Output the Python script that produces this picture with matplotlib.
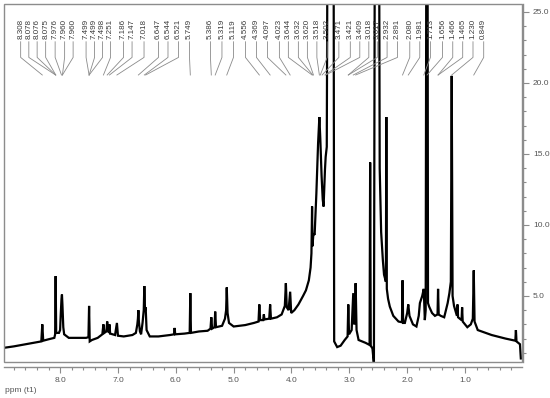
import matplotlib
matplotlib.use('Agg')
import matplotlib.pyplot as plt
from matplotlib.patches import Rectangle
from matplotlib.ticker import MultipleLocator, FormatStrFormatter

plt.rcParams['font.family'] = ['Liberation Sans', 'DejaVu Sans']

# ---- spectrum trace (ppm, intensity) ----
spec_ppm = [8.97, 8.80, 8.60, 8.40, 8.325, 8.308, 8.292, 8.20, 8.10, 8.086, 8.077, 8.068,
            8.02, 8.00, 7.99, 7.976, 7.968, 7.960, 7.945, 7.93, 7.85, 7.70, 7.55, 7.510, 7.499, 7.488,
            7.45, 7.35, 7.27, 7.251, 7.235, 7.20, 7.186, 7.170, 7.155, 7.147, 7.135, 7.05,
            7.018, 7.00, 6.90, 6.75, 6.69, 6.665, 6.655, 6.647, 6.638, 6.62, 6.60, 6.575, 6.554, 6.544,
            6.532, 6.521, 6.505, 6.45, 6.30, 6.10, 6.030, 6.020, 6.010, 5.85, 5.760, 5.749,
            5.738, 5.60, 5.45, 5.400, 5.386, 5.372, 5.330, 5.319, 5.305, 5.20, 5.15, 5.130,
            5.119, 5.105, 5.08, 5.00, 4.80, 4.65, 4.570, 4.556, 4.542, 4.49, 4.478, 4.466,
            4.385, 4.369, 4.355, 4.25, 4.17, 4.115, 4.097, 4.082, 4.050, 4.023, 4.005, 3.95,
            3.88, 3.80, 3.75, 3.70, 3.67, 3.655, 3.644, 3.638, 3.620, 3.600, 3.570, 3.540,
            3.518, 3.502, 3.480, 3.460, 3.445, 3.421, 3.409, 3.390, 3.370, 3.290, 3.275,
            3.262, 3.21, 3.15, 3.08, 3.030, 3.018, 3.005, 2.96, 2.945, 2.932, 2.915, 2.900,
            2.891, 2.875, 2.84, 2.72, 2.650, 2.640, 2.630, 2.60, 2.575, 2.555, 2.490, 2.475,
            2.45, 2.42, 2.40, 2.368, 2.360, 2.352, 2.33, 2.30, 2.24, 2.15, 2.090, 2.080,
            2.070, 2.04, 2.00, 1.981, 1.960, 1.90, 1.84, 1.80, 1.78, 1.74, 1.713, 1.695,
            1.68, 1.665, 1.650, 1.640, 1.62, 1.57, 1.52, 1.475, 1.466, 1.455, 1.42, 1.36,
            1.30, 1.27, 1.245, 1.230, 1.215, 1.19, 1.14, 1.13, 1.12, 1.06, 1.05, 1.04,
            0.96, 0.90, 0.865, 0.849, 0.835, 0.78, 0.54, 0.30, 0.13, 0.12, 0.11, 0.05, 0.035]
spec_int = [1.35, 1.45, 1.60, 1.75, 1.80, 3.00, 1.85, 1.95, 2.05, 2.30, 6.40, 2.40,
            2.40, 2.60, 3.60, 4.80, 5.10, 4.40, 2.80, 2.30, 2.05, 2.05, 2.05, 2.10, 4.30, 1.80,
            1.90, 2.05, 2.30, 3.00, 2.40, 2.50, 3.20, 2.50, 2.45, 3.00, 2.35, 2.25,
            3.10, 2.20, 2.15, 2.25, 2.40, 3.00, 3.40, 4.00, 3.20, 2.50, 2.30, 3.10, 4.00, 5.70,
            4.00, 4.20, 2.60, 2.15, 2.15, 2.25, 2.30, 2.75, 2.30, 2.35, 2.40, 5.20,
            2.40, 2.50, 2.55, 2.70, 3.50, 2.70, 2.80, 3.90, 2.80, 2.90, 3.40, 4.00,
            5.60, 3.80, 3.10, 2.85, 2.95, 3.10, 3.20, 4.40, 3.30, 3.30, 3.70, 3.35,
            3.40, 4.40, 3.40, 3.50, 3.70, 4.30, 5.90, 4.20, 4.00, 5.30, 3.80, 4.00,
            4.40, 5.00, 5.40, 6.10, 7.00, 8.00, 11.30, 8.50, 9.40, 9.30, 12.20, 15.75,
            17.60, 16.10, 13.50, 11.80, 11.30, 13.90, 14.80, 15.50, 40.0, 40.0, 40.0,
            1.80, 1.40, 1.50, 1.90, 2.15, 4.40, 2.30, 2.60, 4.00, 5.20, 3.00, 3.60,
            5.90, 2.60, 1.90, 1.70, 1.55, 14.40, 1.50, 1.30, 0.20, 40.0, 40.0, 14.0,
            9.50, 7.50, 6.50, 6.00, 17.60, 5.50, 4.80, 4.25, 3.60, 3.20, 3.15, 6.10,
            3.10, 3.10, 3.80, 4.40, 3.60, 3.00, 2.85, 3.60, 4.50, 5.00, 5.50, 3.30,
            4.00, 40.0, 40.0, 4.50, 4.25, 3.80, 3.60, 3.70, 5.50, 3.70, 3.60, 3.50,
            4.50, 5.20, 6.00, 20.50, 5.00, 4.30, 3.60, 4.40, 3.50, 3.30, 4.20, 3.20,
            2.80, 3.00, 3.40, 6.80, 3.20, 2.60, 2.25, 2.00, 1.85, 2.60, 1.80, 1.60, 0.60]

# ---- peak picking labels ----
peak_labels = ['8.308', '8.078', '8.076', '8.075', '7.976', '7.960', '7.960', '7.499', '7.499',
               '7.498', '7.251', '7.186', '7.147', '7.018', '6.647', '6.544', '6.521', '5.749',
               '5.386', '5.319', '5.119', '4.556', '4.369', '4.097', '4.023', '3.644', '3.632',
               '3.620', '3.518', '3.502', '3.471', '3.421', '3.409', '3.018', '3.017', '2.932',
               '2.891', '2.080', '1.981', '1.713', '1.656', '1.466', '1.465', '1.230', '0.849']
peak_ppm = [float(s) for s in peak_labels]
label_pos_ppm = [8.682, 8.541, 8.397, 8.250, 8.086, 7.922, 7.775, 7.551, 7.404,
                 7.266, 7.128, 6.903, 6.756, 6.549, 6.299, 6.135, 5.953, 5.763,
                 5.401, 5.202, 5.003, 4.796, 4.606, 4.416, 4.209, 4.054, 3.881,
                 3.725, 3.561, 3.383, 3.181, 2.983, 2.819, 2.663, 2.516, 2.347,
                 2.167, 1.955, 1.782, 1.598, 1.390, 1.212, 1.040, 0.862, 0.677]

x_major = [8.0, 7.0, 6.0, 5.0, 4.0, 3.0, 2.0, 1.0]
y_major = [5.0, 10.0, 15.0, 20.0, 25.0]

W, H = 550, 398
fig = plt.figure(figsize=(W / 100, H / 100), dpi=100)
ax = fig.add_axes([4 / W, 36 / H, 517.7 / W, 358 / H])

ax.plot(spec_ppm, spec_int, color='black', lw=1.6, solid_joinstyle='miter')
ax.set_xlim(8.97, 0.02)
ax.set_ylim(0.35, 25.56)

# frame box
ax.add_patch(Rectangle((0, 0), 1, 1, transform=ax.transAxes, fill=False,
                       ec='#8c8c8c', lw=1.0, clip_on=False, zorder=5))

for s in ['top', 'left']:
    ax.spines[s].set_visible(False)
ax.spines['bottom'].set_position(('outward', 3.6))
ax.spines['right'].set_position(('outward', 1.2))
for s in ['bottom', 'right']:
    ax.spines[s].set_color('#8c8c8c')
    ax.spines[s].set_linewidth(1.0)

ax.yaxis.tick_right()
ax.set_xticks(x_major)
ax.xaxis.set_minor_locator(MultipleLocator(0.2))
ax.xaxis.set_major_formatter(FormatStrFormatter('%.1f'))
ax.set_yticks(y_major)
ax.yaxis.set_minor_locator(MultipleLocator(1.0))
ax.yaxis.set_major_formatter(FormatStrFormatter('%.1f'))
ax.tick_params(axis='both', which='major', length=4.5, width=0.8, color='#8c8c8c',
               labelcolor='#555555', labelsize=6)
ax.tick_params(axis='both', which='minor', length=2.5, width=0.8, color='#8c8c8c')
ax.tick_params(axis='x', which='major', pad=3)
ax.tick_params(axis='y', which='major', pad=2.5)

# peak labels
for lab, pk, pos in zip(peak_labels, peak_ppm, label_pos_ppm):
    ax.plot([pos, pos, pk], [22.9, 21.8, 20.56], color='#8a8a8a', lw=0.6, clip_on=False)
    ax.text(pos, 23.1, lab, rotation=90, ha='center', va='bottom', fontsize=5.8,
            color='#3a3a3a')

fig.text(5 / W, 1 - 391 / H, 'ppm (t1)', fontsize=6, color='#555555', ha='left', va='center')

fig.savefig('out.png', dpi=100)
